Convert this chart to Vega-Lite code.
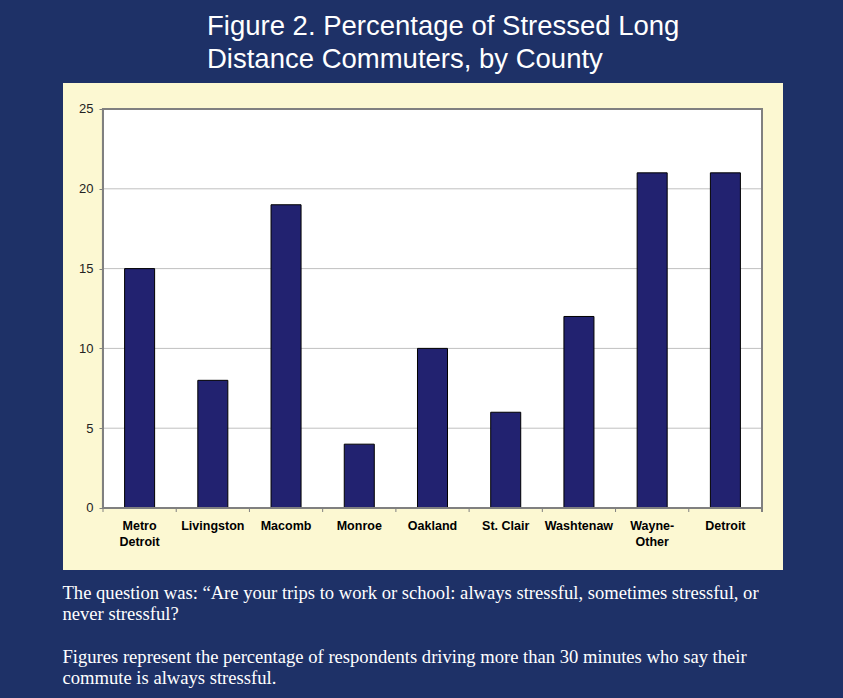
{
  "$schema": "https://vega.github.io/schema/vega-lite/v6.json",
  "autosize": {"type": "none"},
  "padding": {"left": 63, "top": 83, "right": 60, "bottom": 128},
  "width": 720,
  "height": 487,
  "background": "#1e3167",
  "title": {
    "text": ["Figure 2. Percentage of Stressed Long", "Distance Commuters, by County"],
    "anchor": "start",
    "frame": "group",
    "dx": 144,
    "offset": 10,
    "font": "Liberation Sans",
    "fontSize": 27.5,
    "fontWeight": "normal",
    "color": "white",
    "lineHeight": 33
  },
  "datasets": {
    "grid": [{"v": 5}, {"v": 10}, {"v": 15}, {"v": 20}]
  },
  "data": {
    "values": [
      {"county": "Metro Detroit", "pct": 15},
      {"county": "Livingston", "pct": 8},
      {"county": "Macomb", "pct": 19},
      {"county": "Monroe", "pct": 4},
      {"county": "Oakland", "pct": 10},
      {"county": "St. Clair", "pct": 6},
      {"county": "Washtenaw", "pct": 12},
      {"county": "Wayne-Other", "pct": 21},
      {"county": "Detroit", "pct": 21}
    ]
  },
  "layer": [
    {
      "mark": {"type": "rect", "fill": "white"},
      "encoding": {
        "x": {"datum": "Metro Detroit", "bandPosition": 0},
        "x2": {"datum": "Detroit", "bandPosition": 1},
        "y": {"datum": 0},
        "y2": {"datum": 25}
      }
    },
    {
      "data": {"name": "grid"},
      "mark": {"type": "rule", "color": "#c0c0c0", "strokeWidth": 1},
      "encoding": {
        "y": {"field": "v", "type": "quantitative"},
        "x": {"datum": "Metro Detroit", "bandPosition": 0},
        "x2": {"datum": "Detroit", "bandPosition": 1}
      }
    },
    {
      "mark": {"type": "bar", "fill": "#222270", "stroke": "black", "strokeWidth": 1, "width": {"band": 0.41}},
      "encoding": {
        "x": {
          "field": "county",
          "type": "nominal",
          "sort": null,
          "scale": {
            "domain": ["Metro Detroit", "Livingston", "Macomb", "Monroe", "Oakland", "St. Clair", "Washtenaw", "Wayne-Other", "Detroit"],
            "paddingInner": 0,
            "paddingOuter": 0.4165,
            "align": 0.6557
          },
          "axis": {
            "orient": "bottom",
            "offset": -62,
            "domain": false,
            "ticks": false,
            "labelAngle": 0,
            "labelAlign": "center",
            "labelBaseline": "top",
            "labelFont": "Liberation Sans",
            "labelFontSize": 12.5,
            "labelFontWeight": "bold",
            "labelColor": "black",
            "labelPadding": 11,
            "labelLineHeight": 16,
            "labelExpr": "datum.label == 'Metro Detroit' ? ['Metro', 'Detroit'] : datum.label == 'Wayne-Other' ? ['Wayne-', 'Other'] : datum.label",
            "title": [
              "The question was: \u201cAre your trips to work or school: always stressful, sometimes stressful, or",
              "never stressful?"
            ],
            "titleFont": "Liberation Serif",
            "titleFontSize": 18.6,
            "titleFontWeight": "normal",
            "titleColor": "white",
            "titleAlign": "left",
            "titleAnchor": "start",
            "titleBaseline": "alphabetic",
            "titleX": -1,
            "titleY": 90,
            "titleLineHeight": 21.3,
            "titleLimit": 1000
          }
        },
        "y": {
          "field": "pct",
          "type": "quantitative",
          "scale": {"domain": [-3.885, 26.629], "nice": false, "zero": false},
          "axis": {
            "offset": -40,
            "values": [0, 5, 10, 15, 20, 25],
            "grid": false,
            "domain": false,
            "tickSize": 4,
            "tickColor": "#808080",
            "labelFont": "Liberation Sans",
            "labelFontSize": 13,
            "labelColor": "#222222",
            "labelPadding": 6,
            "title": [
              "Figures represent the percentage of respondents driving more than 30 minutes who say their",
              "commute is always stressful."
            ],
            "titleFont": "Liberation Serif",
            "titleFontSize": 18.6,
            "titleFontWeight": "normal",
            "titleColor": "white",
            "titleAngle": 0,
            "titleAlign": "left",
            "titleAnchor": "start",
            "titleBaseline": "alphabetic",
            "titleX": -41,
            "titleY": 579,
            "titleLineHeight": 21.3,
            "titleLimit": 1000
          }
        }
      }
    },
    {
      "mark": {"type": "tick", "orient": "vertical", "size": 4, "thickness": 1, "yOffset": 2, "color": "#808080", "opacity": 1},
      "encoding": {
        "x": {"field": "county", "type": "nominal", "bandPosition": 0},
        "y": {"datum": 0}
      }
    },
    {
      "mark": {"type": "tick", "orient": "vertical", "size": 4, "thickness": 1, "yOffset": 2, "color": "#808080", "opacity": 1},
      "encoding": {
        "x": {"datum": "Detroit", "bandPosition": 1},
        "y": {"datum": 0}
      }
    },
    {
      "mark": {"type": "rect", "fill": null, "stroke": "#808080", "strokeWidth": 2},
      "encoding": {
        "x": {"datum": "Metro Detroit", "bandPosition": 0},
        "x2": {"datum": "Detroit", "bandPosition": 1},
        "y": {"datum": 0},
        "y2": {"datum": 25}
      }
    }
  ],
  "config": {
    "view": {"fill": "#fcf8d2", "stroke": null}
  }
}
